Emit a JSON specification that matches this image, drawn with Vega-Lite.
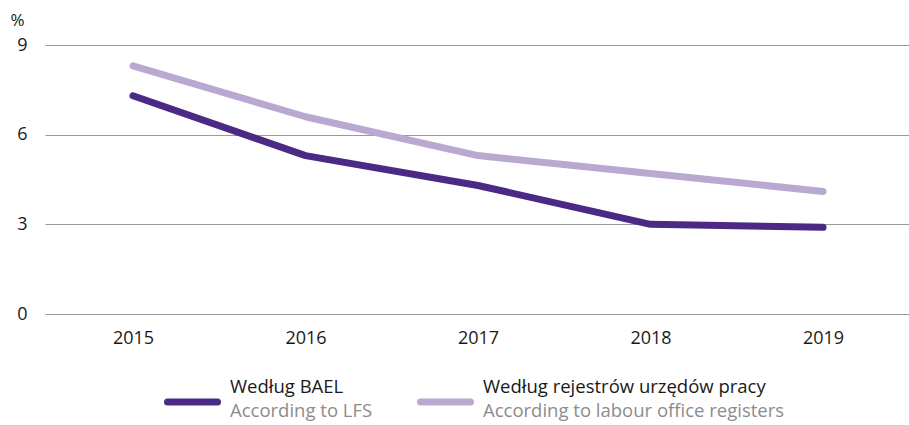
{
  "$schema": "https://vega.github.io/schema/vega-lite/v6.json",
  "padding": {"left": 10, "top": 11, "right": 0, "bottom": 0},
  "spacing": 20,
  "config": {"view": {"stroke": null}, "font": "Open Sans"},
  "datasets": {
    "main": [
      {"year": "2015", "series": "LFS", "value": 7.3},
      {"year": "2016", "series": "LFS", "value": 5.3},
      {"year": "2017", "series": "LFS", "value": 4.3},
      {"year": "2018", "series": "LFS", "value": 3.0},
      {"year": "2019", "series": "LFS", "value": 2.9},
      {"year": "2015", "series": "REG", "value": 8.3},
      {"year": "2016", "series": "REG", "value": 6.6},
      {"year": "2017", "series": "REG", "value": 5.3},
      {"year": "2018", "series": "REG", "value": 4.7},
      {"year": "2019", "series": "REG", "value": 4.1}
    ],
    "legend": [
      {"series": "LFS", "pl": "Według BAEL", "en": "According to LFS"},
      {"series": "REG", "pl": "Według rejestrów urzędów pracy", "en": "According to labour office registers"}
    ]
  },
  "vconcat": [
    {
      "width": 866,
      "height": 269,
      "data": {"name": "main"},
      "mark": {"type": "line", "strokeWidth": 7, "strokeCap": "round", "strokeJoin": "round"},
      "encoding": {
        "x": {
          "field": "year", "type": "ordinal",
          "scale": {"type": "point", "padding": 0.51},
          "axis": {"title": null, "labelAngle": 0, "ticks": false, "domain": false, "grid": false, "labelFontSize": 18, "labelColor": "#1a1a1a", "labelPadding": 15}
        },
        "y": {
          "field": "value", "type": "quantitative",
          "scale": {"domain": [0, 9]},
          "axis": {"values": [0, 3, 6, 9], "title": "%", "titleAngle": 0, "titleAlign": "left", "titleBaseline": "middle", "titleX": -35, "titleY": -25, "titleFontSize": 17, "titleFontWeight": "normal", "titleColor": "#1a1a1a",
                   "grid": true, "gridColor": "#9a9a9a", "gridWidth": 1, "domain": false, "ticks": false, "labelFontSize": 18, "labelColor": "#1a1a1a", "labelPadding": 18}
        },
        "color": {"field": "series", "type": "nominal", "scale": {"domain": ["LFS", "REG"], "range": ["#4b2a85", "#b9a9d1"]}, "legend": null}
      }
    },
    {
      "width": 744,
      "height": 50,
      "data": {"name": "legend"},
      "encoding": {
        "x": {"field": "series", "type": "nominal", "bandPosition": 0, "scale": {"type": "band", "domain": ["LFS", "REG"], "paddingInner": 0, "paddingOuter": 0.4704}, "axis": null}
      },
      "layer": [
        {
          "mark": {"type": "point", "shape": "M-1,0H1", "size": 2500, "strokeWidth": 7, "strokeCap": "round", "filled": false, "opacity": 1, "xOffset": 28.5, "yOffset": 10},
          "encoding": {"color": {"field": "series", "type": "nominal", "scale": {"domain": ["LFS", "REG"], "range": ["#4b2a85", "#b9a9d1"]}, "legend": null}}
        },
        {
          "mark": {"type": "text", "align": "left", "baseline": "alphabetic", "dx": 66, "dy": 1, "fontSize": 18.5, "color": "#1a1a1a"},
          "encoding": {"text": {"field": "pl"}}
        },
        {
          "mark": {"type": "text", "align": "left", "baseline": "alphabetic", "dx": 66, "dy": 25, "fontSize": 18.5, "color": "#8c8c8c"},
          "encoding": {"text": {"field": "en"}}
        }
      ]
    }
  ]
}
